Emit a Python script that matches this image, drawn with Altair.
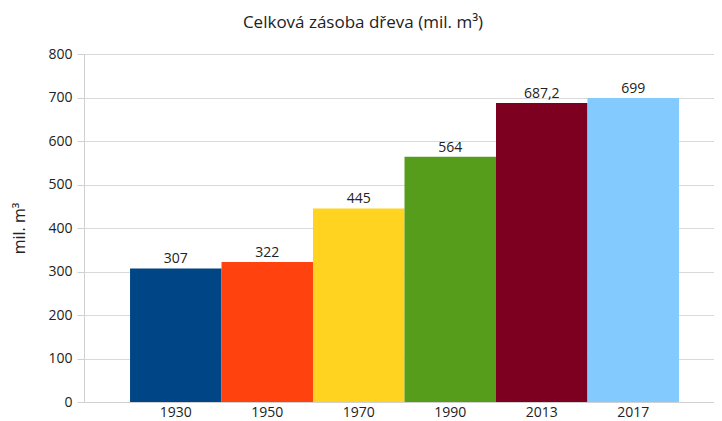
import altair as alt
import pandas as pd

years = ["1930", "1950", "1970", "1990", "2013", "2017"]
values = [307, 322, 445, 564, 687.2, 699]
labels = ["307", "322", "445", "564", "687,2", "699"]
colors = ["#004586", "#ff420e", "#ffd320", "#579d1c", "#7e0021", "#83caff"]

df = pd.DataFrame({"rok": years, "zasoba": values, "popis": labels})

FONT = "Open Sans"

x = alt.X("rok:N", sort=years, title=None,
          scale=alt.Scale(paddingInner=0, paddingOuter=0.443, align=0.568),
          axis=alt.Axis(labelAngle=0, labelFontSize=14, labelColor="#222222",
                        labelFont=FONT, ticks=False, labelPadding=3,
                        domainColor="#d0d0d0", grid=False))
y = alt.Y("zasoba:Q", title="mil. m³",
          scale=alt.Scale(domain=[0, 800], nice=False),
          axis=alt.Axis(values=list(range(0, 801, 100)), labelFontSize=14,
                        labelColor="#222222", labelFont=FONT, tickSize=7,
                        tickColor="#d0d0d0", domainColor="#d0d0d0",
                        gridColor="#d9d9d9", labelPadding=5,
                        titleFontSize=16, titleFontWeight="normal",
                        titleFont=FONT, titleColor="#222222", titlePadding=20))

bars = alt.Chart(df).mark_bar().encode(
    x=x, y=y,
    color=alt.Color("rok:N", scale=alt.Scale(domain=years, range=colors), legend=None),
)
text = alt.Chart(df).mark_text(baseline="bottom", dy=-2, fontSize=14,
                               font=FONT, color="#222222").encode(
    x=alt.X("rok:N", sort=years),
    y=alt.Y("zasoba:Q"),
    text="popis:N",
)

chart = (bars + text).properties(
    width=630, height=348,
    padding={"left": 76, "top": 46, "right": 0, "bottom": 19},
    autosize=alt.AutoSizeParams(type="none"),
    title=alt.Title("Celková zásoba dřeva (mil. m³)", fontSize=17,
                    fontWeight="normal", font=FONT, color="#222222",
                    anchor="middle", frame="bounds", offset=15),
).configure_view(stroke=None)

chart.save("out.html", embed_options={"renderer": "svg", "actions": False})
